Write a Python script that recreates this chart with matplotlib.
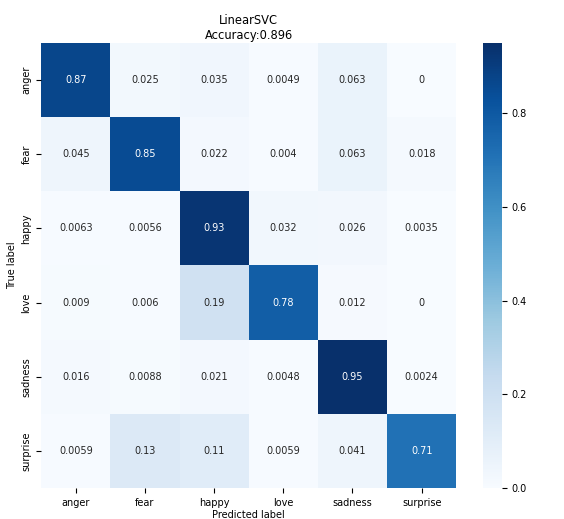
import matplotlib
matplotlib.use("Agg")
import matplotlib.pyplot as plt
import seaborn as sns
import numpy as np

# class labels
labels = ["anger", "fear", "happy", "love", "sadness", "surprise"]

# normalized confusion matrix rows (true label)
row_anger = [0.87, 0.025, 0.035, 0.0049, 0.063, 0]
row_fear = [0.045, 0.85, 0.022, 0.004, 0.063, 0.018]
row_happy = [0.0063, 0.0056, 0.93, 0.032, 0.026, 0.0035]
row_love = [0.009, 0.006, 0.19, 0.78, 0.012, 0]
row_sadness = [0.016, 0.0088, 0.021, 0.0048, 0.95, 0.0024]
row_surprise = [0.0059, 0.13, 0.11, 0.0059, 0.041, 0.71]

cm = np.array([row_anger, row_fear, row_happy, row_love, row_sadness, row_surprise])

fig = plt.figure(figsize=(5.64, 5.19), dpi=100)
ax = fig.add_axes([0.073, 0.060, 0.736, 0.857])
cax = fig.add_axes([0.856, 0.060, 0.034, 0.857])

sns.heatmap(cm, annot=True, fmt=".2g", cmap="Blues", ax=ax, cbar_ax=cax,
            xticklabels=labels, yticklabels=labels,
            annot_kws={"fontsize": 7})

ax.set_title("LinearSVC\nAccuracy:0.896", fontsize=8.3, pad=3)
ax.set_xlabel("Predicted label", fontsize=7, labelpad=2)
ax.set_ylabel("True label", fontsize=7, labelpad=3)
ax.tick_params(labelsize=7)
cax.tick_params(labelsize=7)

fig.savefig("out.png", dpi=100)
